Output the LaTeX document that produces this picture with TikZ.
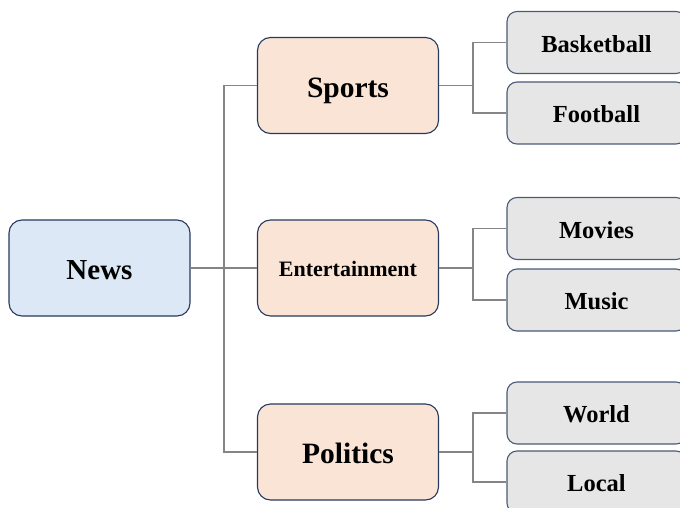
\documentclass[tikz,border=0pt]{standalone}
\usepackage{fontspec}
\setmainfont{Liberation Serif}
\definecolor{rootfill}{HTML}{DCE8F5}
\definecolor{midfill}{HTML}{FAE4D6}
\definecolor{leaffill}{HTML}{E6E6E6}
\definecolor{boxline}{HTML}{253A5E}
\definecolor{leafline}{HTML}{4A5A78}
\definecolor{wire}{HTML}{858585}
\begin{document}
\begin{tikzpicture}[x=1pt,y=-1pt,
  textbox/.style={inner sep=0pt, text depth=0pt},
  rootbox/.style={textbox, text height=23.2pt, draw=boxline, line width=1.1pt, fill=rootfill,
    rounded corners=13pt, minimum width=181pt, minimum height=96pt,
    font=\fontsize{29}{32}\selectfont\bfseries},
  midbox/.style={textbox, text height=23.6pt, draw=boxline, line width=1.1pt, fill=midfill,
    rounded corners=13pt, minimum width=181pt, minimum height=96pt,
    font=\fontsize{29.5}{32}\selectfont\bfseries},
  smallmid/.style={text height=17.6pt, font=\fontsize{22}{24}\selectfont\bfseries},
  leafbox/.style={textbox, text height=19.6pt, draw=leafline, line width=1.1pt, fill=leaffill,
    rounded corners=10pt, minimum width=179pt, minimum height=62pt,
    font=\fontsize{24.5}{27}\selectfont\bfseries},
  wireline/.style={draw=wire, line width=1.7pt}]
\useasboundingbox (0,0) rectangle (680,508);
\clip (0,0) rectangle (680,508);

% root and first level
\node[rootbox] (news) at (99.5,268) {News};
\node[midbox] (sports) at (348,85.5) {Sports};
\node[midbox, smallmid] (ent) at (348,268) {Entertainment};
\node[midbox] (pol) at (348,452) {Politics};

% leaves
\node[leafbox] (bb) at (596.5,42.5) {Basketball};
\node[leafbox] (fb) at (596.5,113) {Football};
\node[leafbox] (mov) at (596.5,228.5) {Movies};
\node[leafbox] (mus) at (596.5,300) {Music};
\node[leafbox] (wor) at (596.5,413) {World};
\node[leafbox] (loc) at (596.5,482) {Local};

% junction points of the elbow connectors
\coordinate (jroot) at (224,268);
\coordinate (jsp) at (473,85.5);
\coordinate (jent) at (473,268);
\coordinate (jpol) at (473,452);

\draw[wireline] (news.east) -- (jroot);
\draw[wireline] (jroot) |- (sports.west);
\draw[wireline] (jroot) -- (ent.west);
\draw[wireline] (jroot) |- (pol.west);

\draw[wireline] (sports.east) -- (jsp);
\draw[wireline] (jsp) |- (bb.west);
\draw[wireline] (jsp) |- (fb.west);

\draw[wireline] (ent.east) -- (jent);
\draw[wireline] (jent) |- (mov.west);
\draw[wireline] (jent) |- (mus.west);

\draw[wireline] (pol.east) -- (jpol);
\draw[wireline] (jpol) |- (wor.west);
\draw[wireline] (jpol) |- (loc.west);
\end{tikzpicture}
\end{document}
